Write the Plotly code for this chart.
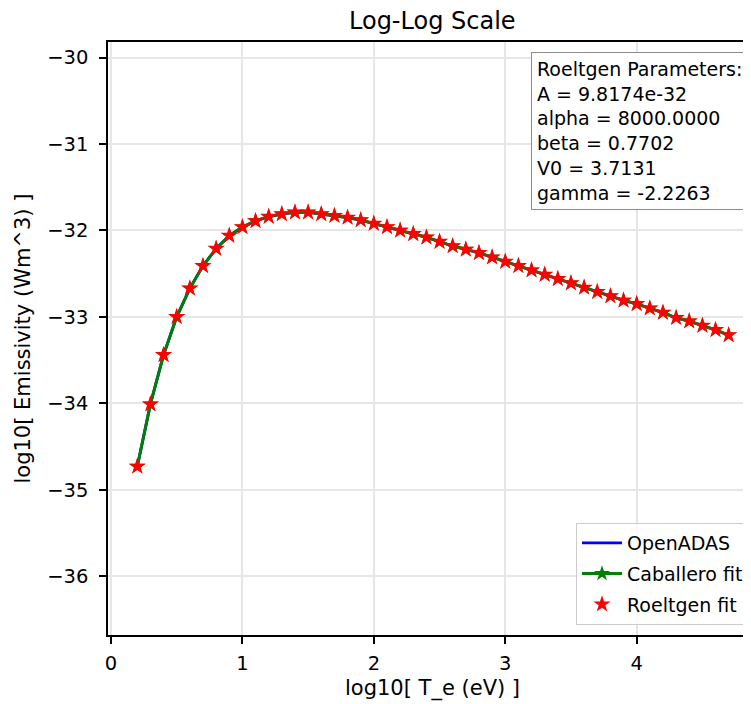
import plotly.graph_objects as go

# log10 of electron temperature (eV)
log_te = [0.2, 0.3, 0.4, 0.5, 0.6, 0.7, 0.8, 0.9, 1.0, 1.1,
          1.2, 1.3, 1.4, 1.5, 1.6, 1.7, 1.8, 1.9, 2.0, 2.1,
          2.2, 2.3, 2.4, 2.5, 2.6, 2.7, 2.8, 2.9, 3.0, 3.1,
          3.2, 3.3, 3.4, 3.5, 3.6, 3.7, 3.8, 3.9, 4.0, 4.1,
          4.2, 4.3, 4.4, 4.5, 4.6, 4.7]

# log10 emissivity (Wm^3) - OpenADAS and both fits overlap at this scale
openadas_log = [-34.73, -34.01, -33.44, -33.00, -32.67, -32.41, -32.21, -32.06, -31.96, -31.89,
                -31.84, -31.81, -31.79, -31.79, -31.81, -31.83, -31.85, -31.88, -31.92, -31.96,
                -32.00, -32.04, -32.08, -32.13, -32.18, -32.22, -32.26, -32.31, -32.36, -32.41,
                -32.46, -32.51, -32.56, -32.61, -32.66, -32.71, -32.76, -32.81, -32.85, -32.90,
                -32.95, -33.01, -33.05, -33.10, -33.15, -33.21]
caballero_log = list(openadas_log)
roeltgen_log = list(openadas_log)

param_names = ["A", "alpha", "beta", "V0", "gamma"]
param_values = ["9.8174e-32", "8000.0000", "0.7702", "3.7131", "-2.2263"]

FONT = "DejaVu Sans"

fig = go.Figure()

fig.add_trace(go.Scatter(x=log_te, y=openadas_log, mode='lines', name='OpenADAS',
                         legendgroup='a',
                         line=dict(color='blue', width=2.9)))
fig.add_trace(go.Scatter(x=log_te, y=caballero_log, mode='lines+markers', name='Caballero fit',
                         legendgroup='b',
                         line=dict(color='green', width=2.9),
                         marker=dict(symbol='star', size=12, color='green', line=dict(width=0))))
fig.add_trace(go.Scatter(x=log_te, y=roeltgen_log, mode='markers', name='Roeltgen fit',
                         legendgroup='c',
                         marker=dict(symbol='star', size=13, color='red', line=dict(width=0))))

axis_common = dict(showline=True, linecolor='black', linewidth=1.5,
                   ticks='outside', ticklen=7, tickwidth=1.5, tickcolor='black',
                   showgrid=True, gridcolor='#e6e6e6', gridwidth=1.5,
                   zeroline=False, tickfont=dict(family=FONT, size=19.5, color='black'))

fig.update_xaxes(range=[-0.0228, 4.870], tickvals=[0, 1, 2, 3, 4], mirror=True,
                 ticklabelstandoff=3, **axis_common)
fig.update_yaxes(range=[-36.68, -29.82], tickvals=[-36, -35, -34, -33, -32, -31, -30],
                 ticklabelstandoff=7, **axis_common)

param_text = "Roeltgen Parameters:<br>" + "<br>".join(
    f"{n} = {v}" for n, v in zip(param_names, param_values))

# page body has an 8px margin, so the figure is 8px smaller than the window
fig.update_layout(
    width=743, height=696,
    margin=dict(l=100, r=0, t=34, b=69),
    plot_bgcolor='white', paper_bgcolor='white',
    font=dict(family=FONT, color='black'),
    showlegend=True,
    legend=dict(x=0.9969, y=0.0169, xanchor='right', yanchor='bottom',
                tracegroupgap=3, itemwidth=40,
                bgcolor='rgba(255,255,255,0.8)', bordercolor='#cccccc', borderwidth=1,
                font=dict(family=FONT, size=19, color='black')),
    annotations=[
        dict(text='Log-Log Scale', xref='paper', yref='paper', x=0.5054, y=1.0354,
             xanchor='center', yanchor='middle', showarrow=False,
             font=dict(family=FONT, size=24, color='black')),
        dict(text='log10[ T_e (eV) ]', xref='paper', yref='paper', x=0.5054, y=-0.0894,
             xanchor='center', yanchor='middle', showarrow=False,
             font=dict(family=FONT, size=21, color='black')),
        dict(text='log10[ Emissivity (Wm^3) ]', xref='paper', yref='paper', x=-0.1337, y=0.5,
             xanchor='center', yanchor='middle', textangle=-90, showarrow=False,
             font=dict(family=FONT, size=21, color='black')),
        dict(text=param_text, xref='paper', yref='paper', x=0.9953, y=0.9826,
             xanchor='right', yanchor='top', align='left', showarrow=False,
             bgcolor='white', bordercolor='#8c8c8c', borderwidth=1, borderpad=5,
             font=dict(family=FONT, size=19, color='black')),
    ],
)

fig.write_html("out.html")
